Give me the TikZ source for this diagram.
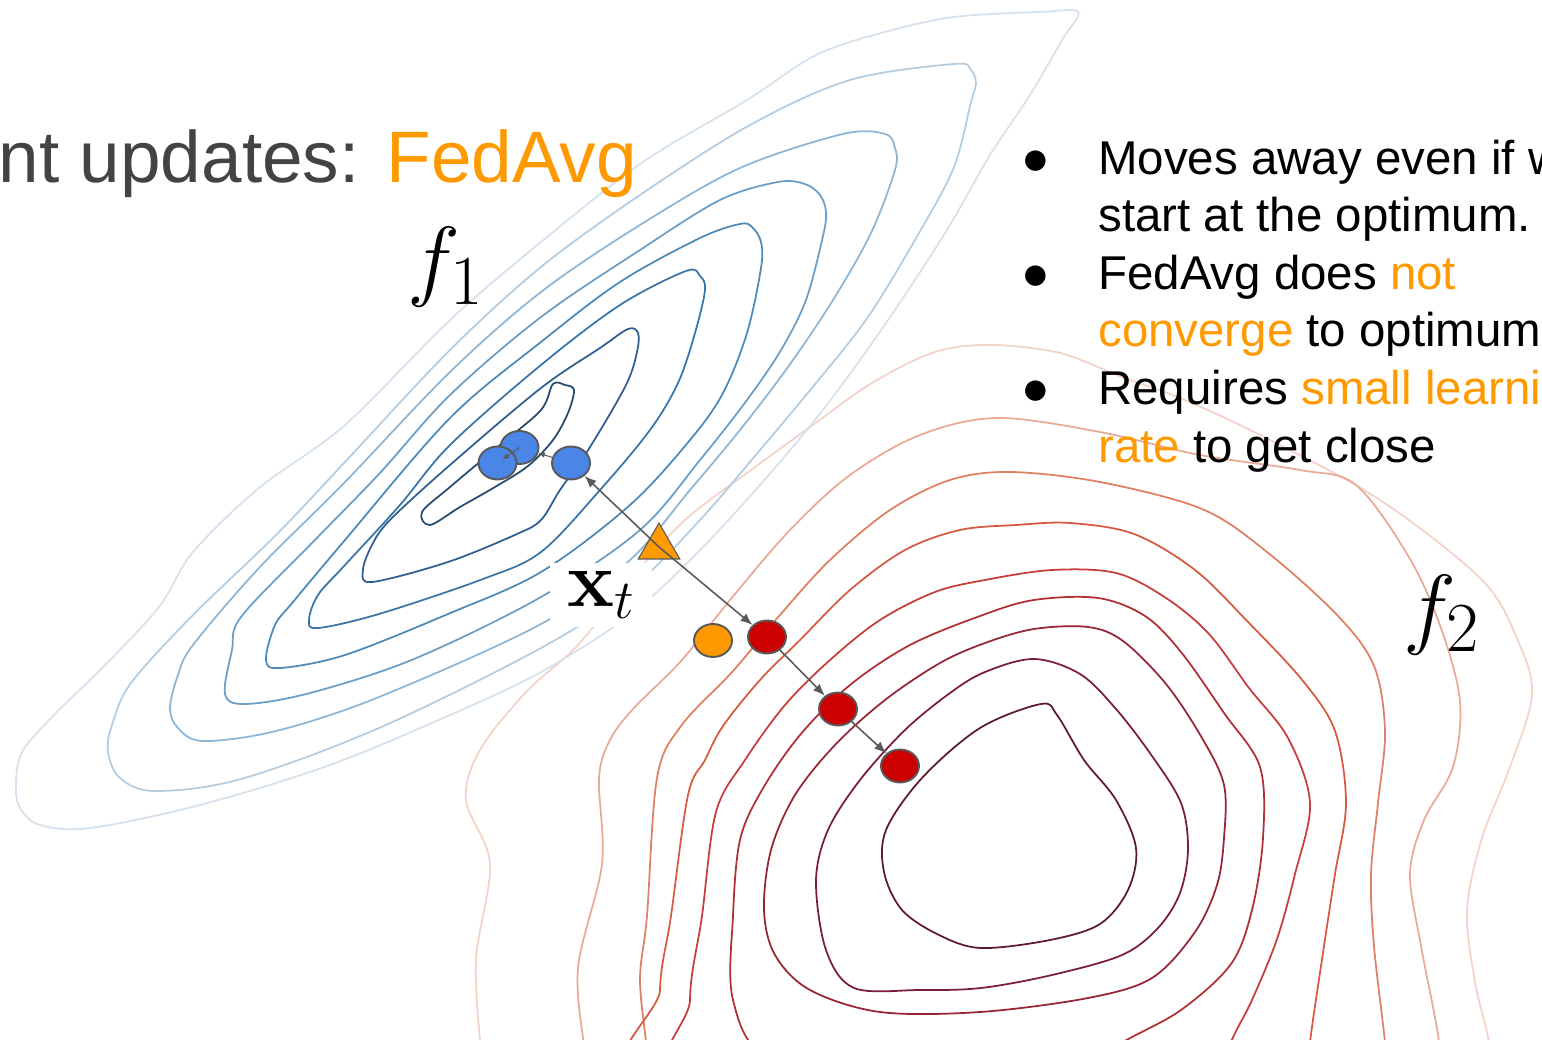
\RequirePackage{fix-cm}
\documentclass[tikz,border=0pt]{standalone}
\usepackage[no-math]{fontspec}
\setmainfont{Liberation Sans}
\usetikzlibrary{arrows.meta,positioning,shapes.geometric,calc}
\DeclareMathSizes{51}{51}{40}{30}
\definecolor{cnaranja}{HTML}{FF9900}
\definecolor{ctexto}{HTML}{434343}
\definecolor{cborde}{HTML}{595959}
\definecolor{cazul}{HTML}{4A86E8}
\definecolor{crojo}{HTML}{CC0000}
% niveles azules (exterior -> interior)
\definecolor{az1}{HTML}{D5E1EC}
\definecolor{az2}{HTML}{B3CCE0}
\definecolor{az3}{HTML}{8DB5D5}
\definecolor{az4}{HTML}{6A9EC6}
\definecolor{az5}{HTML}{4D8AB8}
\definecolor{az6}{HTML}{3A75A8}
\definecolor{az7}{HTML}{2F5F90}
\definecolor{az8}{HTML}{274A73}
% niveles rojos (interior -> exterior)
\definecolor{ro1}{HTML}{5C1A33}
\definecolor{ro2}{HTML}{7A1E35}
\definecolor{ro3}{HTML}{962535}
\definecolor{ro4}{HTML}{B02E36}
\definecolor{ro5}{HTML}{C63D39}
\definecolor{ro6}{HTML}{D65A42}
\definecolor{ro7}{HTML}{E07F62}
\definecolor{ro8}{HTML}{E9AA95}
\definecolor{ro9}{HTML}{F2D3C8}
\newcommand\fttit{\fontsize{41.5}{48}\selectfont}
\newcommand\ftbul{\fontsize{27}{32}\selectfont}
\newcommand\ftmat{\fontsize{51}{60}\selectfont}
\newcommand\ftxt{\fontsize{45}{54}\selectfont}
\tikzset{
  nivel/.style={line width=1pt,line join=round},
  punto/.style={ellipse,draw=cborde,line width=1.1pt,minimum width=7.6mm,
                minimum height=6.6mm,inner sep=0pt},
  pazul/.style={punto,fill=cazul},
  projo/.style={punto,fill=crojo},
  pnaranja/.style={punto,fill=cnaranja},
  flecha/.style={-{Latex[length=2.4mm,width=1.9mm]},draw=cborde,line width=.9pt},
  flechac/.style={-{Latex[length=1.3mm,width=1.1mm]},draw=cborde,line width=.55pt},
  tit/.style={anchor=base east,inner sep=0pt,font=\fttit,text=ctexto},
  bul/.style={anchor=base west,inner sep=0pt,font=\ftbul},
  etf/.style={anchor=base west,inner sep=0pt,font=\ftmat},
}

\begin{document}
\begin{tikzpicture}[x=0.02cm,y=-0.02cm]
\useasboundingbox (0,0) rectangle (1542,1040);
\clip (0,0) rectangle (1542,1040);

% curvas de nivel de f2
\draw[nivel,ro9] plot[smooth cycle,tension=.55] coordinates {(991,345) (1060,353) (1122,377) (1185,400) (1270,440) (1380,500) (1482,580) (1518,641) (1532,695) (1510,767) (1482,838) (1467,910) (1475,982) (1489,1042) (1495,1100) (485,1100) (481,1054) (476,960) (490,864) (466,800) (480,750) (526,692) (578,645) (630,580) (685,520) (747,473) (810,427) (872,383) (935,352)};
\draw[nivel,ro8] plot[smooth cycle,tension=.55] coordinates {(997,418) (1100,432) (1200,455) (1300,470) (1356,485) (1410,559) (1442,631) (1460,702) (1453,767) (1424,820) (1410,874) (1421,946) (1439,1042) (1440,1100) (590,1100) (585,1054) (578,968) (602,864) (599,778) (610,740) (633,709) (681,661) (730,600) (790,530) (850,475) (920,435)};
\draw[nivel,ro7] plot[smooth cycle,tension=.55] coordinates {(1010,472) (1100,482) (1202,509) (1267,552) (1338,616) (1374,666) (1385,731) (1378,803) (1371,874) (1374,946) (1385,1042) (1390,1100) (645,1100) (647,1054) (640,980) (647,916) (657,778) (681,726) (733,671) (780,615) (830,560) (890,510) (950,480)};
\draw[nivel,ro6] plot[smooth cycle,tension=.55] coordinates {(1016,525) (1070,523) (1134,534) (1195,570) (1249,623) (1303,681) (1335,731) (1346,803) (1335,874) (1324,946) (1310,1042) (1305,1100) (665,1100) (660,990) (671,916) (688,795) (705,760) (723,726) (760,680) (800,640) (850,590) (905,550) (960,530)};
\draw[nivel,ro5] plot[smooth cycle,tension=.55] coordinates {(1052,570) (1116,573) (1166,598) (1209,634) (1249,688) (1288,738) (1310,803) (1295,874) (1277,939) (1252,1000) (1231,1042) (1210,1100) (700,1100) (690,1000) (702,916) (716,812) (745,760) (785,705) (830,660) (880,620) (935,592) (985,580)};
\draw[nivel,ro4] plot[smooth cycle,tension=.55] coordinates {(1034,600) (1098,598) (1145,616) (1181,652) (1224,713) (1260,767) (1263,838) (1252,910) (1231,964) (1181,1010) (1123,1042) (1060,1080) (900,1090) (770,1060) (733,1000) (733,916) (740,840) (762,790) (800,735) (850,685) (910,645) (980,616)};
\draw[nivel,ro3] plot[smooth cycle,tension=.55] coordinates {(1034,629) (1088,627) (1123,641) (1166,684) (1202,738) (1224,785) (1224,838) (1217,885) (1195,932) (1152,978) (1088,998) (980,1012) (880,1012) (810,990) (775,955) (764,910) (771,850) (795,795) (835,745) (885,700) (940,663) (985,643)};
\draw[nivel,ro2] plot[smooth cycle,tension=.55] coordinates {(1034,659) (1080,674) (1116,709) (1152,756) (1181,803) (1188,849) (1180,893) (1158,928) (1122,955) (1052,975) (981,988) (920,990) (854,988) (826,950) (816,881) (828,830) (860,780) (905,730) (950,693) (985,672)};
\draw[nivel,ro1] plot[smooth cycle,tension=.55] coordinates {(1041,704) (1057,715) (1084,760) (1116,800) (1136,848) (1128,890) (1100,924) (1050,940) (981,948) (939,935) (902,910) (884,872) (886,830) (922,778) (980,728)};

% curvas de nivel de f1
\draw[nivel,az1] plot[smooth cycle,tension=.55] coordinates {(16,785) (22,752) (52,717) (103,667) (159,607) (193,552) (259,488) (345,425) (450,320) (541,242) (643,162) (747,100) (816,55) (885,32) (954,17) (1040,12) (1078,12) (1062,40) (1030,95) (990,155) (950,225) (905,295) (860,360) (815,420) (760,485) (700,550) (630,615) (541,672) (450,715) (330,765) (200,805) (90,828) (40,825) (20,808)};
\draw[nivel,az2] plot[smooth cycle,tension=.55] coordinates {(108,752) (112,725) (131,683) (193,615) (276,535) (345,462) (450,350) (541,267) (640,195) (750,125) (850,80) (954,64) (971,70) (976,84) (971,102) (954,167) (919,233) (868,317) (816,383) (760,450) (700,520) (630,590) (541,648) (379,728) (241,779) (155,791) (120,778)};
\draw[nivel,az3] plot[smooth cycle,tension=.55] coordinates {(170,708) (178,675) (193,645) (259,568) (345,482) (450,372) (541,292) (640,225) (740,168) (843,134) (885,134) (895,148) (895,170) (871,233) (833,300) (788,367) (740,430) (690,490) (630,560) (541,624) (379,697) (276,731) (203,741) (178,728)};
\draw[nivel,az4] plot[smooth cycle,tension=.55] coordinates {(225,694) (232,650) (241,617) (310,545) (379,474) (450,395) (541,317) (640,250) (720,200) (778,182) (805,184) (820,195) (826,212) (823,236) (806,300) (781,350) (747,400) (700,460) (640,530) (541,597) (414,659) (310,693) (245,704)};
\draw[nivel,az5] plot[smooth cycle,tension=.55] coordinates {(266,660) (275,625) (293,602) (345,540) (450,418) (541,342) (620,282) (700,238) (740,224) (752,227) (761,242) (761,268) (747,333) (723,393) (690,440) (630,505) (541,572) (448,614) (345,655) (280,668)};
\draw[nivel,az6] plot[smooth cycle,tension=.55] coordinates {(309,620) (318,595) (345,565) (400,505) (450,445) (541,365) (620,305) (686,271) (700,276) (705,290) (695,333) (678,383) (650,430) (600,490) (541,552) (483,579) (379,614) (318,628)};
\draw[nivel,az7] plot[smooth cycle,tension=.55] coordinates {(363,570) (372,545) (390,520) (450,465) (541,388) (600,348) (628,329) (638,333) (637,352) (626,385) (590,447) (560,490) (541,520) (517,534) (448,562) (372,582)};
\draw[nivel,az8] plot[smooth cycle,tension=.55] coordinates {(422,512) (450,487) (500,445) (541,410) (553,384) (565,385) (574,390) (568,413) (553,440) (528,466) (495,487) (460,507) (430,525)};

% textos
\node[tit] (titulo) at (637,183) {nt updates: \textcolor{cnaranja}{FedAvg}};
\node[etf] (f1) at (407,290) {$f_1$};
\node[etf] (f2) at (1403,637) {$f_2$};

\node[bul] (p1) at (1021,175) {●};
\node[bul] (p2) at (1021,290) {●};
\node[bul] (p3) at (1021,405) {●};
\node[bul] (l1) at (1098,175) {Moves away even if w};
\node[bul] (l2) at (1098,232) {start at the optimum.};
\node[bul] (l3) at (1098,290) {FedAvg does \textcolor{cnaranja}{not}};
\node[bul] (l4) at (1098,347) {\textcolor{cnaranja}{converge} to optimum};
\node[bul] (l5) at (1098,405) {Requires \textcolor{cnaranja}{small learni}};
\node[bul] (l6) at (1098,462) {\textcolor{cnaranja}{rate} to get close};

% iterados
\node[fill=white,inner sep=0pt,minimum width=2.06cm,minimum height=1.28cm,font=\ftxt] (xtl) at (601,595) {$\mathbf{x}_t$\hspace{2mm}};
\node[regular polygon,regular polygon sides=3,minimum size=9.6mm,inner sep=0pt,
      fill=cnaranja,draw=cborde,line width=.6pt] (xt) at (659,547) {};
\node[pazul] (b1) at (571,463) {};
\node[pazul] (b2) at (519.5,447.5) {};
\node[pazul] (b3) at (497.5,463) {};
\node[pnaranja] (o1) at (713,640.5) {};
\node[projo] (r1) at (767,637) {};
\node[projo] (r2) at (838,709) {};
\node[projo] (r3) at (900,766) {};

\draw[flecha] (xt.center) -- (b1);
\draw[flecha] (xt.center) -- (r1);
\draw[flecha] (r1) -- (r2);
\draw[flecha] (r2) -- (r3);
\draw[flechac] (b1) -- (b2);
\draw[flechac,shorten >=1.2mm] (b2.center) -- (b3.center);
\end{tikzpicture}
\end{document}
